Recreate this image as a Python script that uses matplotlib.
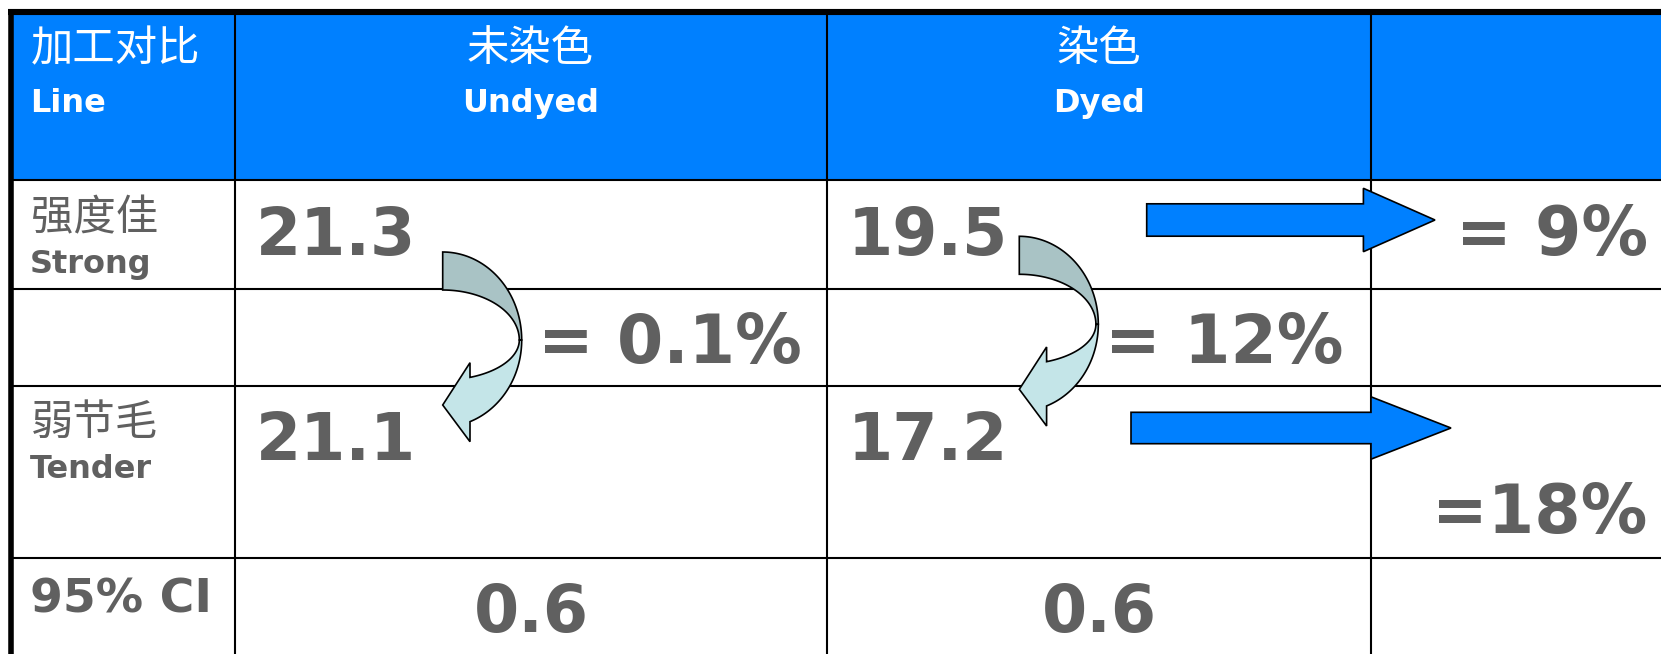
import numpy as np
import matplotlib
matplotlib.use("Agg")
import matplotlib.pyplot as plt
from matplotlib.patches import Polygon, Rectangle

# ---------------- data ----------------
header_cn = "加工对比"
header_en = "Line"
col_labels_cn = ["未染色", "染色", ""]
col_labels_en = ["Undyed", "Dyed", ""]
row_labels_cn = ["强度佳", "弱节毛"]
row_labels_en = ["Strong", "Tender"]
ci_label = "95% CI"
strong_vals = [21.3, 19.5]
tender_vals = [21.1, 17.2]
ci_vals = [0.6, 0.6]
drop_labels = ["= 0.1%", "= 12%"]      # strong -> tender, per column
dye_labels = ["= 9%", "=18%"]          # undyed -> dyed, per row

# ---------------- layout (pixels) ----------------
W, H = 1661, 654
col_x = [10.5, 234.5, 826.5, 1371]
row_y = [12, 180, 289, 385.5, 557.5]
BLUE = "#0080FF"
GRAY = "#606060"
DARK = "#A9C3C5"
LIGHT = "#C4E5E8"
CJK = ["Noto Sans CJK SC", "DejaVu Sans"]

fig = plt.figure(figsize=(W / 100, H / 100), dpi=100)
ax = fig.add_axes([0, 0, 1, 1])
ax.set_xlim(0, W)
ax.set_ylim(H, 0)
ax.axis("off")

# header background
ax.add_patch(Rectangle((col_x[0], row_y[0]), W - col_x[0], row_y[1] - row_y[0],
                       facecolor=BLUE, edgecolor="none", zorder=1))

# grid lines
for y in row_y[1:]:
    ax.plot([col_x[0], W], [y, y], color="black", lw=1.5, zorder=2,
            solid_capstyle="butt")
for x in col_x[1:]:
    ax.plot([x, x], [row_y[0], H], color="black", lw=1.5, zorder=2,
            solid_capstyle="butt")
ax.plot([8, W], [12, 12], color="black", lw=4.4, zorder=2, solid_capstyle="butt")
ax.plot([10.5, 10.5], [9, H], color="black", lw=4.0, zorder=2, solid_capstyle="butt")

# header texts
ax.text(31, 49, header_cn, family=CJK, fontsize=30.5, color="white",
        ha="left", va="center", zorder=5)
ax.text(30, 112, header_en, family="DejaVu Sans", weight="bold", fontsize=23,
        color="white", ha="left", va="baseline", zorder=5)
for i in range(3):
    cx = (col_x[i + 1] + (col_x[i + 2] if i + 2 < len(col_x) else W + 400)) / 2
    if col_labels_cn[i]:
        ax.text(cx, 49, col_labels_cn[i], family=CJK, fontsize=30.5,
                color="white", ha="center", va="center", zorder=5)
    if col_labels_en[i]:
        ax.text(cx, 112, col_labels_en[i], family="DejaVu Sans", weight="bold",
                fontsize=23, color="white", ha="center", va="baseline", zorder=5)

# row labels
row_cn_y = [218.5, 423]
row_en_base = [273, 478]
for i in range(2):
    ax.text(31, row_cn_y[i], row_labels_cn[i], family=CJK, fontsize=30.5,
            color=GRAY, ha="left", va="center", zorder=5)
    ax.text(30, row_en_base[i], row_labels_en[i], family="DejaVu Sans",
            weight="bold", fontsize=23, color=GRAY, ha="left", va="baseline",
            zorder=5)
ax.text(30, 612.5, ci_label, family="DejaVu Sans", weight="bold", fontsize=34,
        color=GRAY, ha="left", va="baseline", zorder=5)

# values
BIG = 46.8
for j in range(2):
    left = col_x[j + 1] + 21
    ax.text(left, 255, f"{strong_vals[j]:.1f}", family="DejaVu Sans",
            weight="bold", fontsize=BIG, color=GRAY, ha="left",
            va="baseline", zorder=5)
    ax.text(left, 460, f"{tender_vals[j]:.1f}", family="DejaVu Sans",
            weight="bold", fontsize=BIG, color=GRAY, ha="left",
            va="baseline", zorder=5)
    cx = (col_x[j + 1] + col_x[j + 2]) / 2
    ax.text(cx + 1, 632, f"{ci_vals[j]:.1f}", family="DejaVu Sans",
            weight="bold", fontsize=BIG, color=GRAY, ha="center",
            va="baseline", zorder=5)

PCT = 48
drop_x = [538, 1105]
for j in range(2):
    ax.text(drop_x[j], 363, drop_labels[j], family="DejaVu Sans",
            weight="bold", fontsize=PCT, color=GRAY, ha="left",
            va="baseline", zorder=5)
dye_pos = [(1456, 255), (1432, 533)]
for j in range(2):
    ax.text(dye_pos[j][0], dye_pos[j][1], dye_labels[j], family="DejaVu Sans",
            weight="bold", fontsize=PCT, color=GRAY, ha="left",
            va="baseline", zorder=5)


# curved arrows (strong -> tender)
def curved_arrow(x0, yc):
    rxo, ryo_top, ryo_bot = 79.0, 88.0, 87.0
    rxi_top, ryi_top = 76.6, 50.0
    rxi_bot, ryi_bot = 76.6, 40.0
    hx = x0 + 27.3
    t = np.linspace(-np.pi / 2, 0, 80)
    outer = np.c_[x0 + rxo * np.cos(t), yc + ryo_top * np.sin(t)]
    t2 = t[::-1]
    inner = np.c_[x0 + rxi_top * np.cos(t2), yc + ryi_top * np.sin(t2)]
    dark = np.vstack([outer, inner])
    te = np.arccos((hx - x0) / rxo)
    t3 = np.linspace(0, te, 80)
    outer2 = np.c_[x0 + rxo * np.cos(t3), yc + ryo_bot * np.sin(t3)]
    ti = np.arccos((hx - x0) / rxi_bot)
    t4 = np.linspace(ti, 0, 80)
    inner2 = np.c_[x0 + rxi_bot * np.cos(t4), yc + ryi_bot * np.sin(t4)]
    head = np.array([(hx, yc + 101.7), (x0, yc + 65), (hx, yc + 22.7)])
    light = np.vstack([outer2, head, inner2])
    ax.add_patch(Polygon(dark, closed=True, facecolor=DARK, edgecolor="black",
                         lw=1.2, zorder=3, joinstyle="miter"))
    ax.add_patch(Polygon(light, closed=True, facecolor=LIGHT, edgecolor="black",
                         lw=1.2, zorder=3.1, joinstyle="miter"))


curved_arrow(442.7, 340)
curved_arrow(1019.3, 324.3)


# straight arrows (undyed -> dyed)
def block_arrow(xs, xb, xt, yc, hw, hh):
    pts = [(xs, yc - hw), (xb, yc - hw), (xb, yc - hh), (xt, yc),
           (xb, yc + hh), (xb, yc + hw), (xs, yc + hw)]
    ax.add_patch(Polygon(pts, closed=True, facecolor=BLUE, edgecolor="black",
                         lw=1.2, zorder=3, joinstyle="miter"))


block_arrow(1146.7, 1363.4, 1435, 220, 16.2, 31.7)
block_arrow(1131, 1371, 1451, 428, 15.7, 31.2)

fig.savefig("out.png", dpi=100)
